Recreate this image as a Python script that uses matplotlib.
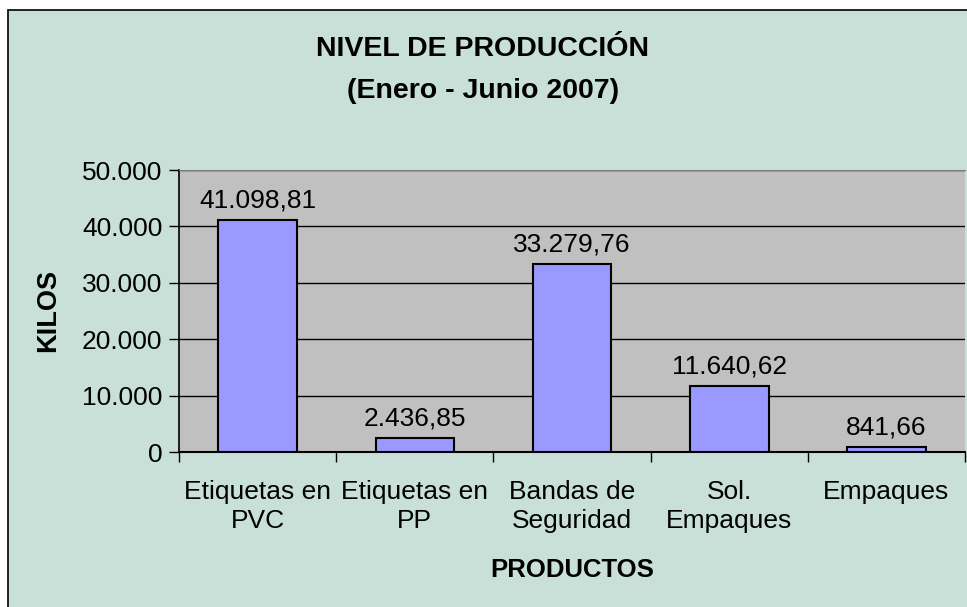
import matplotlib.pyplot as plt
from matplotlib.patches import Rectangle
from matplotlib.ticker import FuncFormatter

plt.rcParams['font.family'] = ['Liberation Sans', 'DejaVu Sans']

# -----------------------------
# Daten
# -----------------------------
productos = ["Etiquetas en\nPVC", "Etiquetas en\nPP", "Bandas de\nSeguridad",
             "Sol.\nEmpaques", "Empaques"]
kilos = [41098.81, 2436.85, 33279.76, 11640.62, 841.66]
etiquetas = ["41.098,81", "2.436,85", "33.279,76", "11.640,62", "841,66"]
y_ticks = [0, 10000, 20000, 30000, 40000, 50000]

W, H = 967, 607
fig = plt.figure(figsize=(W / 100, H / 100), dpi=100)
fig.patch.set_facecolor("white")

# Rahmen des Diagrammbereichs
fig.patches.append(Rectangle((8 / W, -0.01), 1.0, 1 - 10 / H + 0.01,
                             transform=fig.transFigure, facecolor="#C8E0D8",
                             edgecolor="black", linewidth=1.2, zorder=-10))

ax = fig.add_axes([179 / W, 1 - 452 / H, (965 - 179) / W, (452 - 170) / H])
ax.set_zorder(1)
ax.set_facecolor("#C0C0C0")

x = list(range(len(productos)))
ax.bar(x, kilos, width=0.5, color="#9999FF", edgecolor="black",
       linewidth=1.5, zorder=3)
for xi, v, t in zip(x, kilos, etiquetas):
    ax.text(xi, v + 2300, t, ha="center", va="baseline", fontsize=19, zorder=4)

ax.set_xlim(-0.5, len(productos) - 0.5)
ax.set_ylim(0, 50000)
ax.set_yticks(y_ticks)
ax.yaxis.set_major_formatter(FuncFormatter(lambda v, p: f"{int(v):,}".replace(",", ".")))
ax.grid(axis="y", color="black", linewidth=1.0, zorder=1)

ax.set_xticks([i + 0.5 for i in range(-1, len(productos))])
ax.set_xticklabels([])
ax.set_xticks(x, minor=True)
ax.set_xticklabels(productos, minor=True, fontsize=19, linespacing=1.3)
ax.tick_params(axis="x", which="minor", length=0, pad=20)
ax.tick_params(axis="x", which="major", length=7, width=1, direction="out")
ax.tick_params(axis="y", length=7, width=1, direction="out", labelsize=19, pad=5)

ax.spines["top"].set_color("#808080")
ax.spines["right"].set_visible(False)
ax.spines["left"].set_linewidth(1.2)
ax.spines["bottom"].set_linewidth(1.5)

ax.set_xlabel("PRODUCTOS", fontsize=18.5, fontweight="bold", va="center")
ax.xaxis.set_label_coords(0.5, (452 - 570) / 282)
fig.text(48 / W, 1 - 310 / H, "KILOS", rotation=90, ha="center", va="center",
         fontsize=19.5, fontweight="bold")

fig.text(483 / W, 1 - 49 / H, "NIVEL DE PRODUCCIÓN", ha="center", va="center",
         fontsize=20.5, fontweight="bold")
fig.text(483 / W, 1 - 91 / H, "(Enero - Junio 2007)", ha="center", va="center",
         fontsize=20.5, fontweight="bold")

fig.savefig("out.png", dpi=100)
